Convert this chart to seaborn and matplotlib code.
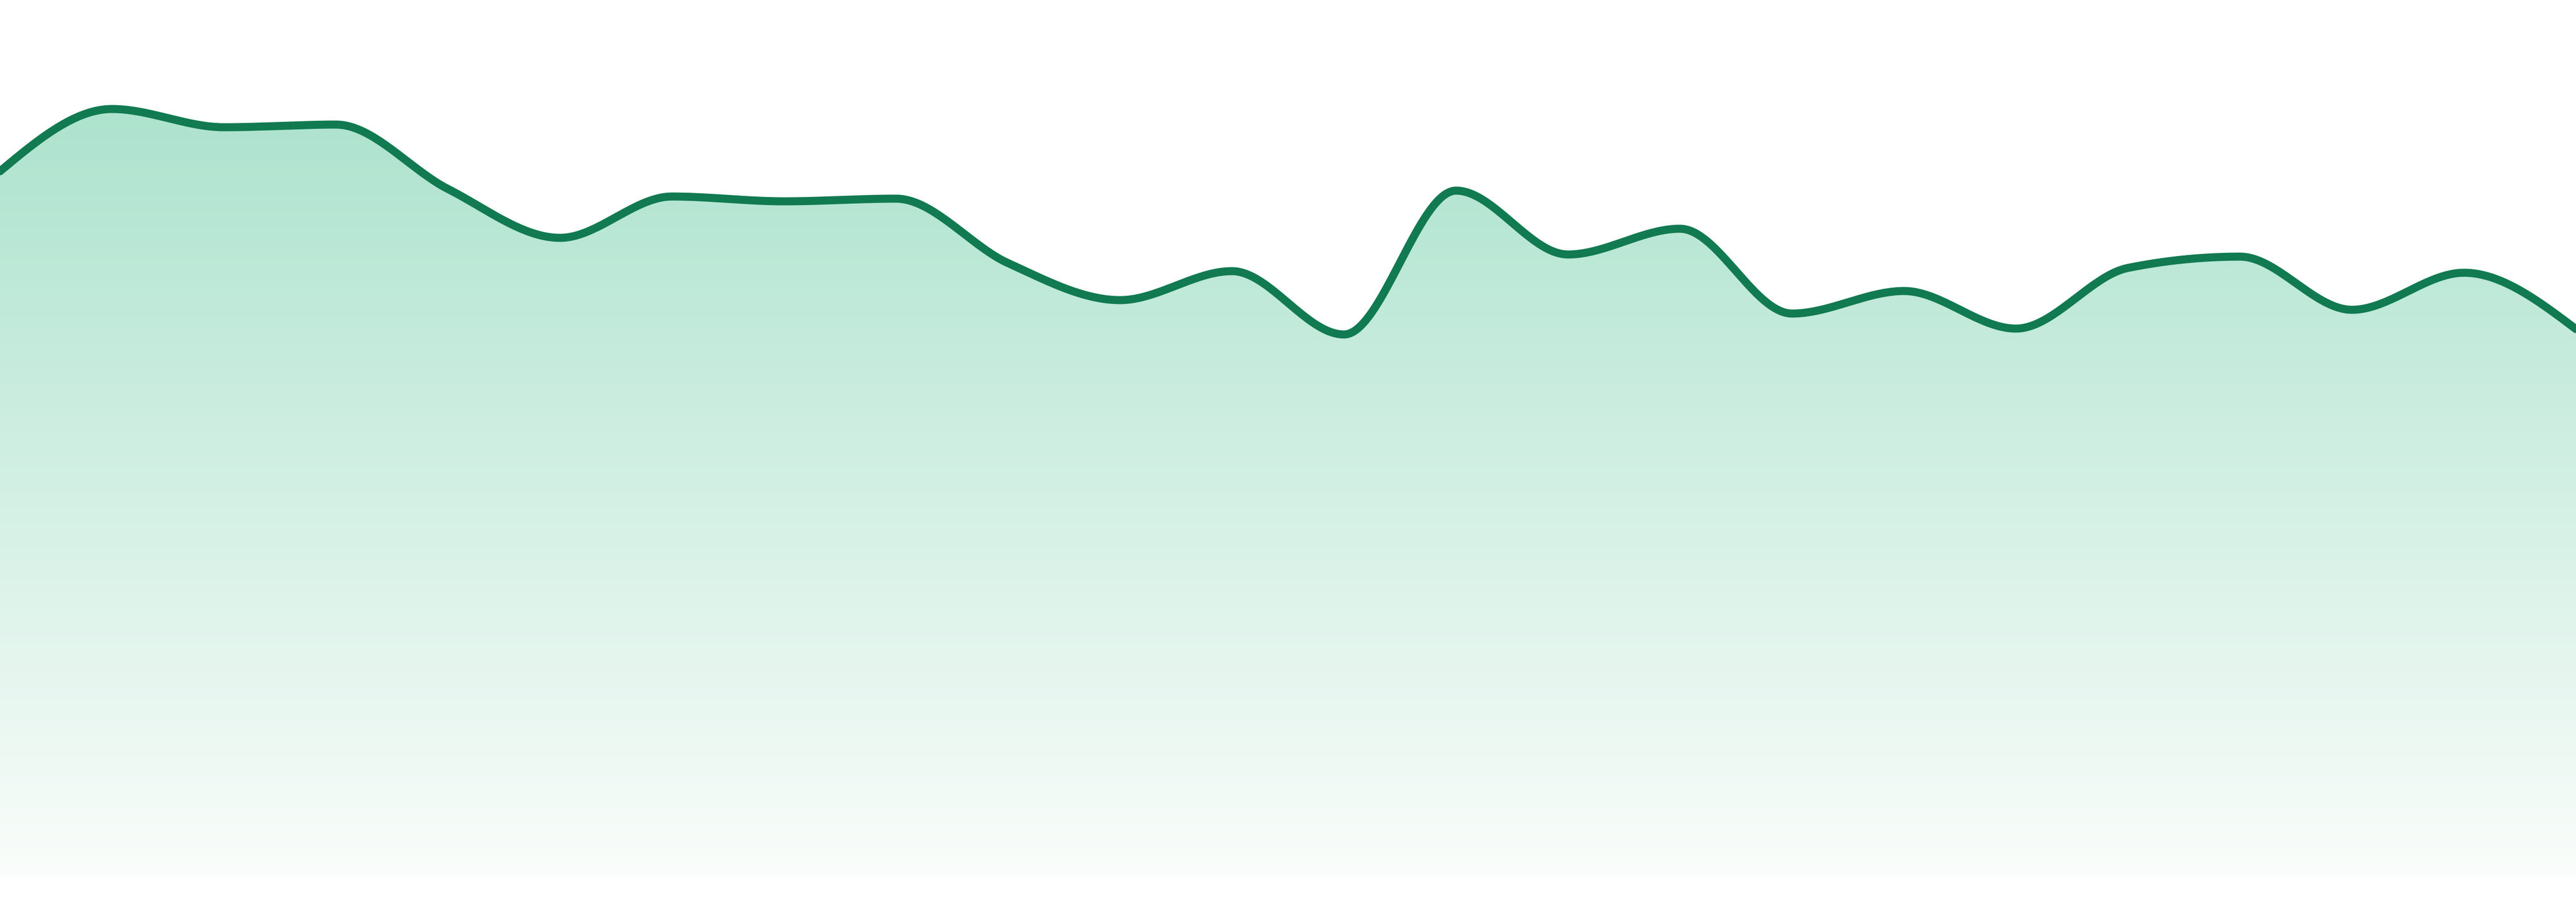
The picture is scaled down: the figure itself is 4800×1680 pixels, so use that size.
"""
Sparkline: smooth green area chart with a vertical fade, no axes.
"""

import numpy as np
import matplotlib
matplotlib.use("Agg")
import matplotlib.pyplot as plt
from matplotlib.colors import LinearSegmentedColormap
import seaborn as sns

# ─────────────────────────────────────────
# DATA
# ─────────────────────────────────────────
points = list(range(24))
values = [131.3, 142.9, 139.5, 140.0, 128.0, 118.9, 126.6, 125.7,
          126.2, 114.2, 107.3, 112.7, 100.9, 127.7, 115.8, 120.6,
          104.8, 109.0, 102.0, 113.3, 115.4, 105.5, 112.4, 101.9]

line_color = "#117a51"
fill_top = "#ade3ce"
fill_bottom = "#fafdfb"


def monotone_x(x, y, n=40):
    # same idea as d3.curveMonotoneX (Fritsch-Carlson style tangents)
    x = np.asarray(x, float)
    y = np.asarray(y, float)
    h = np.diff(x)
    s = np.diff(y) / h
    t = np.zeros_like(y)
    for i in range(1, len(y) - 1):
        p = (s[i - 1] * h[i] + s[i] * h[i - 1]) / (h[i - 1] + h[i])
        t[i] = (np.sign(s[i - 1]) + np.sign(s[i])) * min(abs(s[i - 1]), abs(s[i]), 0.5 * abs(p))
    t[0] = (3 * s[0] - t[1]) / 2
    t[-1] = (3 * s[-1] - t[-2]) / 2
    xs, ys = [], []
    for i in range(len(y) - 1):
        u = np.linspace(0, 1, n, endpoint=(i == len(y) - 2))
        h00 = 2 * u**3 - 3 * u**2 + 1
        h10 = u**3 - 2 * u**2 + u
        h01 = -2 * u**3 + 3 * u**2
        h11 = u**3 - u**2
        xs.append(x[i] + u * h[i])
        ys.append(h00 * y[i] + h10 * h[i] * t[i] + h01 * y[i + 1] + h11 * h[i] * t[i + 1])
    return np.concatenate(xs), np.concatenate(ys)


xs, ys = monotone_x(points, values)

# ─────────────────────────────────────────
# PLOT
# ─────────────────────────────────────────
sns.set_style("white")
fig = plt.figure(figsize=(48, 16.8), dpi=100)
ax = fig.add_axes([0, 0, 1, 1])

area = ax.fill_between(xs, 0, ys, color="none", linewidth=0)

cmap = LinearSegmentedColormap.from_list("fade", [fill_bottom, fill_top])
grad = np.linspace(0, 1, 256).reshape(-1, 1)
img = ax.imshow(grad, cmap=cmap, aspect="auto", origin="lower",
                extent=[points[0], points[-1], 0, max(values)], zorder=1)
img.set_clip_path(area.get_paths()[0], transform=ax.transData)

sns.lineplot(x=xs, y=ys, ax=ax, color=line_color, linewidth=10.8,
             sort=False, estimator=None, zorder=3)

ax.set_xlim(points[0], points[-1])
ax.set_ylim(-4.8, 163.2)
ax.set_axis_off()

fig.savefig("out.png", dpi=100, facecolor="white")
plt.close(fig)
